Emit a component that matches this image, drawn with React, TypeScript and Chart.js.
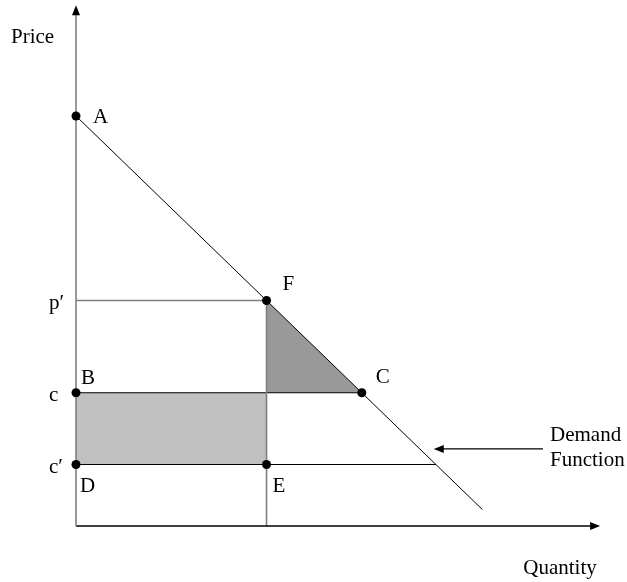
import React, { useEffect, useRef } from "react";
import { Chart, registerables } from "chart.js";

Chart.register(...registerables);

// ---- data (quantity on x, price on y) ----
const demandQ = [0, 96];
const demandP = [100, 4];
const pricePrime = 55; // p'
const costC = 32.5; // c
const costCPrime = 15; // c'
const qF = 45;
const qC = 67.5;
const qCPrimeEnd = 85;
const axisQMax = 123;
const axisPMax = 127;
const priceTicks = [55, 32.5, 15];
const priceTickLabels = ["p\u2032", "c", "c\u2032"];
const pointNames = ["A", "F", "C", "B", "D", "E"];
const pointQ = [0, 45, 67.5, 0, 0, 45];
const pointP = [100, 55, 32.5, 32.5, 15, 15];
const arrowFromQ = 110.3;
const arrowToQ = 84.5;
const arrowP = 18.8;
const axisTitles = ["Price", "Quantity"];
const demandLabel = ["Demand", "Function"];

const FONT = "'Liberation Serif', 'Times New Roman', serif";
const GRAY = "#7f7f7f";

const labelOffsets: Record<string, [number, number]> = {
  A: [17, 7],
  F: [16, -11],
  C: [14, -10],
  B: [5, -9],
  D: [4, 27],
  E: [6, 27],
};

const xy = (q: number[], p: number[]) => q.map((v, i) => ({ x: v, y: p[i] }));

const diagramPlugin = {
  id: "diagram",
  afterDatasetsDraw(chart: any) {
    const ctx = chart.ctx;
    const xs = chart.scales.x;
    const ys = chart.scales.y;
    const px = (q: number) => xs.getPixelForValue(q);
    const py = (p: number) => ys.getPixelForValue(p);
    ctx.save();
    // arrowheads
    const head = (tx: number, ty: number, dx: number, dy: number, color: string) => {
      const L = 10, W = 4;
      const bx = tx - dx * L, by = ty - dy * L;
      ctx.fillStyle = color;
      ctx.beginPath();
      ctx.moveTo(tx, ty);
      ctx.lineTo(bx - dy * W, by + dx * W);
      ctx.lineTo(bx + dy * W, by - dx * W);
      ctx.closePath();
      ctx.fill();
    };
    head(px(0), py(axisPMax), 0, -1, "#000");
    head(px(axisQMax + 0.8), py(0), 1, 0, "#000");
    head(px(arrowToQ), py(arrowP), -1, 0, "#000");

    ctx.fillStyle = "#000";
    ctx.font = `21px ${FONT}`;
    ctx.textBaseline = "alphabetic";
    ctx.textAlign = "left";
    pointNames.forEach((n, i) => {
      const [dx, dy] = labelOffsets[n];
      ctx.fillText(n, px(pointQ[i]) + dx, py(pointP[i]) + dy);
    });
    ctx.fillText(axisTitles[0], 11, 43);
    ctx.textAlign = "right";
    ctx.fillText(axisTitles[1], px(axisQMax), py(0) + 48);
    ctx.textAlign = "left";
    ctx.fillText(demandLabel[0], px(arrowFromQ) + 7, py(arrowP) - 8);
    ctx.fillText(demandLabel[1], px(arrowFromQ) + 7, py(arrowP) + 17);
    ctx.restore();
  },
};

export default function App() {
  const ref = useRef<HTMLCanvasElement>(null);
  useEffect(() => {
    if (!ref.current) return;
    const lineDs = (data: any[], color: string, width: number, order = 5) => ({
      data,
      borderColor: color,
      borderWidth: width,
      pointRadius: 0,
      fill: false,
      clip: false,
      order,
      tension: 0,
    });
    const chart = new Chart(ref.current, {
      type: "line",
      data: {
        datasets: [
          // light rectangle (top edge filled to bottom edge)
          {
            data: xy([0, qF], [costC, costC]),
            borderWidth: 0,
            pointRadius: 0,
            backgroundColor: "#c0c0c0",
            fill: "+1",
            clip: false,
            order: 20,
          },
          { data: xy([0, qF], [costCPrime, costCPrime]), borderWidth: 0, pointRadius: 0, fill: false, clip: false, order: 19 },
          // dark triangle
          {
            data: xy([qF, qC], [pricePrime, costC]),
            borderWidth: 0,
            pointRadius: 0,
            backgroundColor: "#999999",
            fill: "+1",
            clip: false,
            order: 18,
          },
          { data: xy([qF, qC], [costC, costC]), borderWidth: 0, pointRadius: 0, fill: false, clip: false, order: 17 },
          // axes
          lineDs(xy([0, 0], [0, axisPMax - 2]), GRAY, 1.6),
          lineDs(xy([0, axisQMax], [0, 0]), "#000", 1.4),
          // guide lines
          lineDs(xy([0, qF], [pricePrime, pricePrime]), GRAY, 1.3),
          lineDs(xy([qF, qF], [pricePrime, 0]), GRAY, 1.6),
          lineDs(xy([0, qC], [costC, costC]), "#000", 1.2),
          lineDs(xy([0, qCPrimeEnd], [costCPrime, costCPrime]), "#000", 1.2),
          // demand
          lineDs(xy(demandQ, demandP), "#000", 1),
          // annotation arrow shaft
          lineDs(xy([arrowFromQ, arrowToQ + 1], [arrowP, arrowP]), "#000", 1.2),
          // points
          {
            data: xy(pointQ, pointP),
            showLine: false,
            pointRadius: 4.5,
            pointHoverRadius: 4.5,
            pointBackgroundColor: "#000",
            pointBorderColor: "#000",
            pointBorderWidth: 0,
            clip: false,
            order: 1,
          },
        ] as any,
      },
      options: {
        animation: false,
        responsive: false,
        devicePixelRatio: 1,
        events: [],
        layout: { padding: { left: 49, right: 26, top: 5.3, bottom: 56 } },
        plugins: { legend: { display: false }, tooltip: { enabled: false } },
        scales: {
          x: { type: "linear", min: 0, max: 124, display: false },
          y: {
            type: "linear",
            min: 0,
            max: 127,
            position: "left",
            grid: { display: false },
            border: { display: false },
            ticks: {
              autoSkip: false,
              crossAlign: "far",
              padding: 0,
              labelOffset: 3,
              color: "#000",
              font: { family: FONT, size: 21 },
              callback: (v: any) => {
                const i = priceTicks.indexOf(Number(v));
                return i >= 0 ? priceTickLabels[i] : "";
              },
            },
            afterBuildTicks: (scale: any) => {
              scale.ticks = priceTicks.map((v) => ({ value: v }));
            },
            afterFit: (scale: any) => {
              scale.width = 27;
              scale.paddingTop = 0;
              scale.paddingBottom = 0;
            },
          } as any,
        },
      },
      plugins: [diagramPlugin],
    });
    return () => chart.destroy();
  }, []);
  return (
    <div style={{ position: "absolute", left: 0, top: 0, width: 627, height: 582, background: "#fff" }}>
      <canvas ref={ref} width={627} height={582} style={{ display: "block" }} />
    </div>
  );
}
